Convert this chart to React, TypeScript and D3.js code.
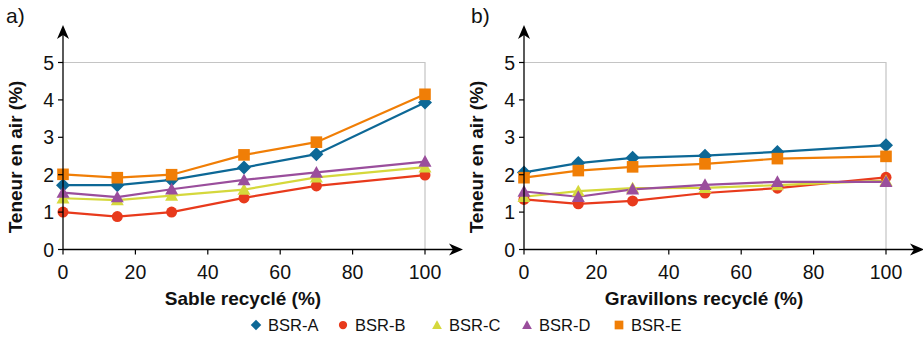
import React from "react";
import * as d3 from "d3";

const xValues = [0, 15, 30, 50, 70, 100];
const seriesNames = ["BSR-A", "BSR-B", "BSR-C", "BSR-D", "BSR-E"];
const colors = ["#0d6896", "#e83a1c", "#d5d83c", "#9a4e9c", "#f07e06"];
const shapes = ["diamond", "circle", "triangle", "triangle", "square"];

// Panel a) Sable recyclé
const sableA = [1.72, 1.72, 1.86, 2.19, 2.55, 3.93];
const sableB = [1.0, 0.88, 1.0, 1.38, 1.7, 1.99];
const sableC = [1.37, 1.32, 1.44, 1.6, 1.93, 2.2];
const sableD = [1.52, 1.4, 1.61, 1.86, 2.06, 2.35];
const sableE = [2.01, 1.92, 2.0, 2.53, 2.87, 4.15];

// Panel b) Gravillons recyclé
const gravA = [2.06, 2.31, 2.45, 2.51, 2.61, 2.79];
const gravB = [1.34, 1.22, 1.3, 1.51, 1.64, 1.93];
const gravC = [1.41, 1.56, 1.64, 1.65, 1.72, 1.84];
const gravD = [1.55, 1.41, 1.61, 1.73, 1.81, 1.81];
const gravE = [1.92, 2.11, 2.21, 2.29, 2.43, 2.49];

const xTicks = [0, 20, 40, 60, 80, 100];
const yTicks = [0, 1, 2, 3, 4, 5];

const FONT = "'Liberation Sans', Arial, sans-serif";

function Marker({ shape, x, y, color, s = 1 }: any) {
  if (shape === "diamond") {
    const r = 7 * s;
    return <path d={`M${x},${y - r}L${x + r},${y}L${x},${y + r}L${x - r},${y}Z`} fill={color} />;
  }
  if (shape === "circle") return <circle cx={x} cy={y} r={5.5 * s} fill={color} />;
  if (shape === "square") {
    const h = 5.8 * s;
    return <rect x={x - h} y={y - h} width={2 * h} height={2 * h} fill={color} />;
  }
  const h = 6.5 * s;
  return <path d={`M${x},${y - h}L${x + h},${y + h * 0.8}L${x - h},${y + h * 0.8}Z`} fill={color} />;
}

function Panel({ left, right, data, label, tag, tagX }: any) {
  const x = d3.scaleLinear().domain([0, 100]).range([left, right]);
  const y = d3.scaleLinear().domain([0, 5]).range([249.5, 62.5]);
  const line = d3
    .line<number>()
    .x((_, i) => x(xValues[i]))
    .y((d) => y(d));
  const axisEnd = right + 38;
  const cx = (left + right) / 2;
  return (
    <g fontFamily={FONT}>
      <text x={tagX} y={22.5} fontSize={21} fill="#111">{tag}</text>
      {/* gray frame */}
      <path d={`M${x(0)},${y(5)}H${x(100)}V${y(0)}`} fill="none" stroke="#c4c4c4" strokeWidth={1.2} />
      {/* series */}
      {data.map((vals: number[], k: number) => (
        <path key={"l" + k} d={line(vals) || ""} fill="none" stroke={colors[k]} strokeWidth={2.2} />
      ))}
      {data.map((vals: number[], k: number) =>
        vals.map((v, i) => (
          <Marker key={`m${k}-${i}`} shape={shapes[k]} x={x(xValues[i])} y={y(v)} color={colors[k]} />
        ))
      )}
      {/* axes */}
      <line x1={x(0)} y1={y(0)} x2={axisEnd - 8} y2={y(0)} stroke="#000" strokeWidth={1.3} />
      <path d={`M${axisEnd},${y(0)}L${axisEnd - 14},${y(0) - 6}L${axisEnd - 10},${y(0)}L${axisEnd - 14},${y(0) + 6}Z`} fill="#000" />
      <line x1={x(0)} y1={y(0)} x2={x(0)} y2={33} stroke="#000" strokeWidth={1.3} />
      <path d={`M${x(0)},25L${x(0) - 6},39L${x(0)},35L${x(0) + 6},39Z`} fill="#000" />
      {yTicks.map((t) => (
        <g key={"y" + t}>
          <line x1={x(0) - 5} x2={x(0)} y1={y(t)} y2={y(t)} stroke="#000" strokeWidth={1.2} />
          <text x={x(0) - 9} y={y(t) + 7} fontSize={19.5} textAnchor="end" fill="#111">{t}</text>
        </g>
      ))}
      {xTicks.map((t) => (
        <g key={"x" + t}>
          <line x1={x(t)} x2={x(t)} y1={y(0)} y2={y(0) + 5} stroke="#000" strokeWidth={1.2} />
          <text x={x(t)} y={278.5} fontSize={19.5} textAnchor="middle" fill="#111">{t}</text>
        </g>
      ))}
      <text
        transform={`translate(${left - 41},157) rotate(-90)`}
        textAnchor="middle"
        fontSize={19}
        fontWeight="bold"
        fill="#111"
      >
        Teneur en air (%)
      </text>
      <text x={cx - 1} y={305} textAnchor="middle" fontSize={19} fontWeight="bold" fill="#111">{label}</text>
    </g>
  );
}

export default function App() {
  const legendX = [256, 343, 437, 527, 619];
  return (
    <svg width={923} height={337} style={{ position: "absolute", left: 0, top: 0, background: "#fff" }}>
      <Panel left={63} right={425} data={[sableA, sableB, sableC, sableD, sableE]} label="Sable recyclé (%)" tag="a)" tagX={6} />
      <Panel left={524} right={886} data={[gravA, gravB, gravC, gravD, gravE]} label="Gravillons recyclé (%)" tag="b)" tagX={471} />
      <g fontFamily={FONT}>
        {seriesNames.map((n, k) => (
          <g key={n}>
            <Marker shape={shapes[k]} x={legendX[k]} y={325} color={colors[k]} s={0.75} />
            <text x={legendX[k] + 12} y={331} fontSize={16.5} fill="#111">{n}</text>
          </g>
        ))}
      </g>
    </svg>
  );
}
